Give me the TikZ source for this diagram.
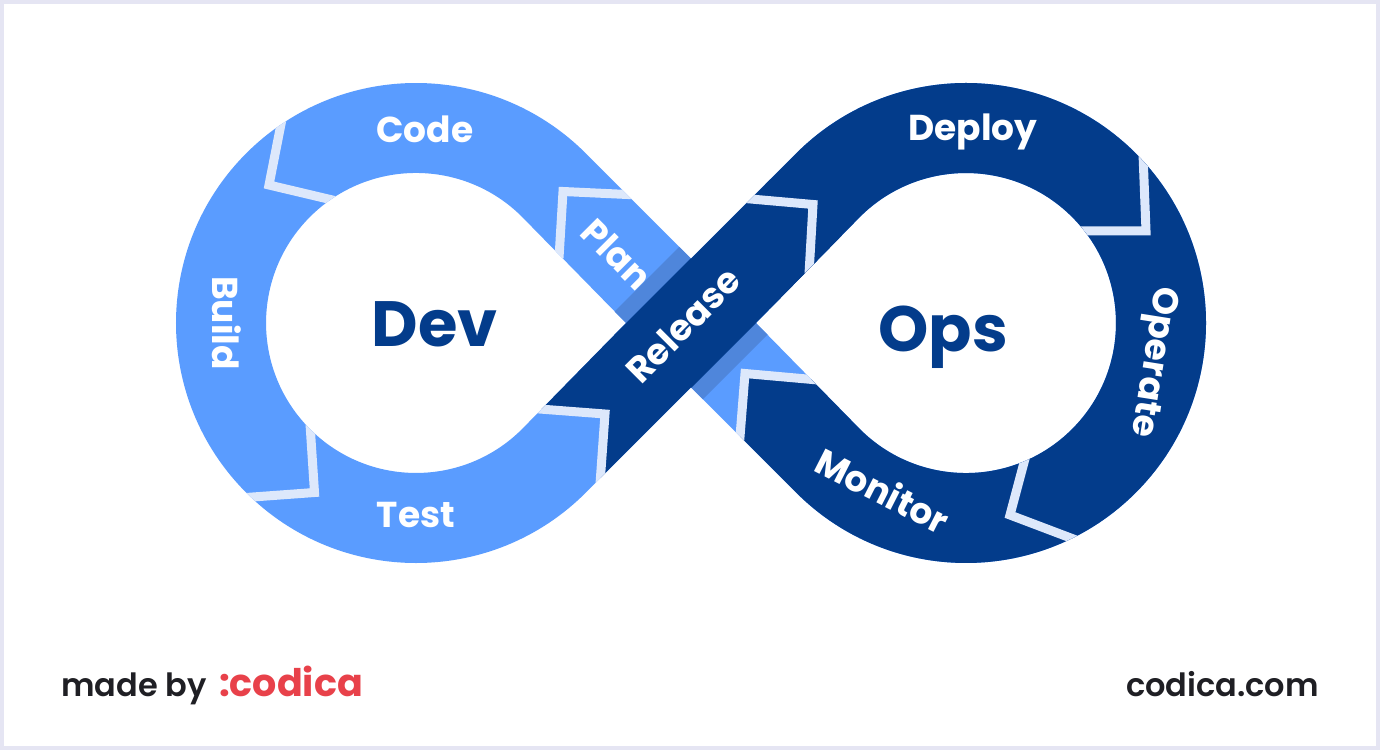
\documentclass[tikz,border=0pt]{standalone}
\usepackage{fontspec}
\setmainfont{Poppins}
\newfontfamily\popsemi{Poppins SemiBold}
\definecolor{devblue}{HTML}{5A9CFF}
\definecolor{opsblue}{HTML}{033C8B}
\definecolor{shadeblue}{HTML}{4F86DB}
\definecolor{sepblue}{HTML}{DDE8FB}
\definecolor{framegrey}{HTML}{E5E5F3}
\definecolor{codired}{HTML}{E8414A}
\definecolor{inkgrey}{HTML}{1F1F24}
\begin{document}
\begin{tikzpicture}[x=1pt, y=1pt,
    bandlabel/.style={text=white, font=\bfseries\fontsize{36}{36}\selectfont, inner sep=0pt},
    biglabel/.style={text=opsblue, font=\bfseries\fontsize{64}{64}\selectfont, inner sep=0pt},
    footlabel/.style={text=inkgrey, font=\popsemi\fontsize{32}{32}\selectfont, inner sep=0pt},
    sepline/.style={draw=sepblue, line width=9pt, miter limit=10}]
\useasboundingbox (0,0) rectangle (1380,750);
\fill[framegrey] (0,0) rectangle (1380,750);
\fill[white] (4,4) rectangle (1376,746);

\begin{scope}[even odd rule]
\clip (585.7,596.7) arc[start angle=45, end angle=315, radius=240]--(691,362.6)--(796.3,257.3)
    arc[start angle=225, end angle=495, radius=240]--(691,491.4)--cycle
    (522.1,533.1) arc[start angle=45, end angle=315, radius=150]--(626,427)--cycle
    (859.9,320.9) arc[start angle=225, end angle=495, radius=150]--(756,427)--cycle;
\fill[devblue] (150,50) rectangle (1230,700);
\fill[opsblue] (826,369)--(812,370.5)--(745,376.5)--(740,313)--(736,260)--(700,150)--(1300,150)--(1300,730)--(760,730)--(770,427)--cycle;
% shade beside the crossing band
\fill[shadeblue] (614.5,438.5)--(626,427)--(691,492)--(679.5,503.5)--cycle;
\fill[shadeblue] (691,362)--(702.5,350.5)--(767.5,415.5)--(756,427)--cycle;
\fill[opsblue] (530,341.7)--(605,336)--(600.4,271.4)--(840,511)--(770,571)--(541,342)--cycle;

\foreach \xa/\ya/\xb/\yb/\xc/\yc in {282/631/269/565/334/549.6, 634/555.2/563/558.5/559/492,
    310/326/314.5/257.5/246/252.5, 533/341.5/605/336/600/266, 745/551.5/813/545.5/809/476,
    1143/596/1146/519/1078/519, 1026/295/1010/235/1076/210, 818/370/745/376.5/739.5/307}
{
    \draw[sepline] (\xa,\ya)--(\xb,\yb)--(\xc,\yc);
}
\end{scope}

\foreach \bname/\x/\y/\ang in {Code/425/621/0, Build/227/427/-90, Test/416/235/0, Plan/617/496/-45,
    Release/683/425/45, Deploy/973/618/0, Operate/1152/388/-99, Monitor/883/260/-27}
{
    \node[bandlabel, rotate=\ang] (\bname) at (\x,\y) {\bname};
}
\node[biglabel] (dev) at (435,426) {Dev};
\node[biglabel] (ops) at (943,413) {Ops};
\node[footlabel, anchor=base west] (made) at (61,54) {made by};
\node[text=codired, font=\bfseries\fontsize{38}{38}\selectfont, inner sep=0pt, anchor=base west] (logo) at (219,54) {:codica};
\node[footlabel, anchor=base east] (site) at (1319,54) {codica.com};
\end{tikzpicture}
\end{document}
